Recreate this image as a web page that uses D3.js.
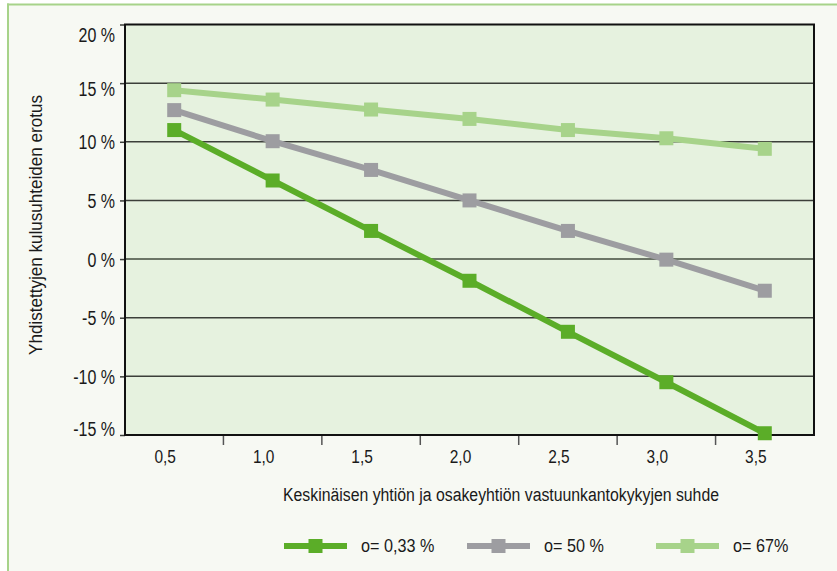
<!DOCTYPE html>
<html>
<head>
<meta charset="utf-8">
<script src="https://cdn.jsdelivr.net/npm/d3@7/dist/d3.min.js"></script>
<style>
  html, body { margin: 0; padding: 0; background: #ffffff; }
  svg { display: block; }
  text { font-family: "Liberation Sans", Arial, sans-serif; fill: #1a1a1a; }
</style>
</head>
<body>
<svg id="chart" width="837" height="571"></svg>
<script>
// ---- data ----
const categories = ["0,5", "1,0", "1,5", "2,0", "2,5", "3,0", "3,5"];
const seriesNames = ["o= 0,33 %", "o= 50 %", "o= 67%"];
const rho033 = [11.0, 6.7, 2.4, -1.85, -6.2, -10.5, -14.85];
const rho50  = [12.7, 10.05, 7.6, 5.0, 2.4, -0.05, -2.7];
const rho67  = [14.4, 13.6, 12.75, 11.95, 11.0, 10.3, 9.4];
const yTicks = [-15, -10, -5, 0, 5, 10, 15, 20];
const yTitle = "Yhdistettyjen kulusuhteiden erotus";
const xTitle = "Keskinäisen yhtiön ja osakeyhtiön vastuunkantokykyjen suhde";

const colors = ["#5bad28", "#9d9da1", "#a7d38a"];
const seriesValues = [rho033, rho50, rho67];

const svg = d3.select("#chart");
const W = 837, H = 571;
const M = { left: 125, right: 814, top: 24.5, bottom: 435 };
const SX = 0.8; // horizontal condensing of the sans font

// outer frame
svg.append("rect").attr("x", 8).attr("y", 4.5).attr("width", W).attr("height", H)
  .attr("fill", "#f7f9f3");
svg.append("line").attr("x1", 8).attr("x2", 8).attr("y1", 3.5).attr("y2", H)
  .attr("stroke", "#a7d38a").attr("stroke-width", 2);
svg.append("line").attr("x1", 7).attr("x2", W).attr("y1", 4.5).attr("y2", 4.5)
  .attr("stroke", "#a7d38a").attr("stroke-width", 2);

const x = d3.scaleBand().domain(categories).range([M.left, M.right]);
const y = d3.scaleLinear().domain([-15, 20]).range([M.bottom, M.top]);

// plot background
svg.append("rect").attr("x", M.left).attr("y", M.top)
  .attr("width", M.right - M.left).attr("height", M.bottom - M.top)
  .attr("fill", "#e6f2df");

// gridlines
svg.append("g").selectAll("line").data(yTicks.filter(d => d > -15 && d < 20)).join("line")
  .attr("x1", M.left).attr("x2", M.right)
  .attr("y1", d => y(d)).attr("y2", d => y(d))
  .attr("stroke", d => d === 0 ? "#6b7566" : "#3c3f3a")
  .attr("stroke-width", d => d === 0 ? 2 : 1.5);

// y axis
const yAxis = svg.append("g").attr("transform", `translate(${M.left},0)`)
  .call(d3.axisLeft(y).tickValues(yTicks).tickSize(5).tickPadding(10).tickFormat(d => d + " %"));
yAxis.select(".domain").remove();
yAxis.selectAll(".tick line").attr("stroke", "#3c3f3a").attr("stroke-width", 1.5);
yAxis.selectAll(".tick text").attr("font-size", 20).attr("fill", "#1a1a1a")
  .attr("x", -10 / SX)
  .attr("transform", `scale(${SX},1)`)
  .attr("dy", d => d === 20 ? "0.85em" : d === -15 ? "0.0em" : d === 15 ? "0.6em" : "0.36em");

// x axis (ticks at band boundaries)
const boundaries = categories.slice(1);
svg.append("g").selectAll("line").data(boundaries).join("line")
  .attr("x1", d => x(d)).attr("x2", d => x(d))
  .attr("y1", M.bottom).attr("y2", M.bottom + 10)
  .attr("stroke", "#555").attr("stroke-width", 1.5);
const xAxis = svg.append("g").attr("transform", `translate(0,${M.bottom})`)
  .call(d3.axisBottom(x).tickSize(0).tickPadding(15));
xAxis.select(".domain").remove();
xAxis.selectAll(".tick text").attr("font-size", 18).attr("fill", "#1a1a1a")
  .attr("x", -9 / 0.86).attr("transform", "scale(0.86,1)");

// plot border
svg.append("rect").attr("x", M.left).attr("y", M.top)
  .attr("width", M.right - M.left).attr("height", M.bottom - M.top)
  .attr("fill", "none").attr("stroke", "#111").attr("stroke-width", 2);

// series
const line = d3.line().x((d, i) => x(categories[i]) + x.bandwidth() / 2).y(d => y(d));
const order = [2, 1, 0];
order.forEach(si => {
  const vals = seriesValues[si];
  svg.append("path").datum(vals).attr("d", line)
    .attr("fill", "none").attr("stroke", colors[si]).attr("stroke-width", 6)
    .attr("stroke-linejoin", "round");
  svg.append("g").selectAll("rect").data(vals).join("rect")
    .attr("x", (d, i) => x(categories[i]) + x.bandwidth() / 2 - 7)
    .attr("y", d => y(d) - 7)
    .attr("width", 14).attr("height", 14).attr("fill", colors[si]);
});

// axis titles
svg.append("text").attr("transform", `translate(42,225) rotate(-90)`)
  .attr("text-anchor", "middle").attr("font-size", 18)
  .attr("textLength", 260).attr("lengthAdjust", "spacingAndGlyphs").text(yTitle);
svg.append("text").attr("x", 501).attr("y", 501)
  .attr("text-anchor", "middle").attr("font-size", 18)
  .attr("textLength", 436).attr("lengthAdjust", "spacingAndGlyphs").text(xTitle);

// legend
const legendX = [284, 467, 656];
const LS = 0.9;
const legend = svg.append("g");
seriesNames.forEach((name, i) => {
  const g = legend.append("g").attr("transform", `translate(${legendX[i]},546)`);
  g.append("line").attr("x1", 0).attr("x2", 63).attr("y1", 0).attr("y2", 0)
    .attr("stroke", colors[i]).attr("stroke-width", 6);
  g.append("rect").attr("x", 31.5 - 7).attr("y", -7).attr("width", 14).attr("height", 14)
    .attr("fill", colors[i]);
  g.append("text").attr("x", 77 / LS).attr("y", 0).attr("dy", "0.35em")
    .attr("transform", `scale(${LS},1)`)
    .attr("font-size", 18).text(name);
});
</script>
</body>
</html>
